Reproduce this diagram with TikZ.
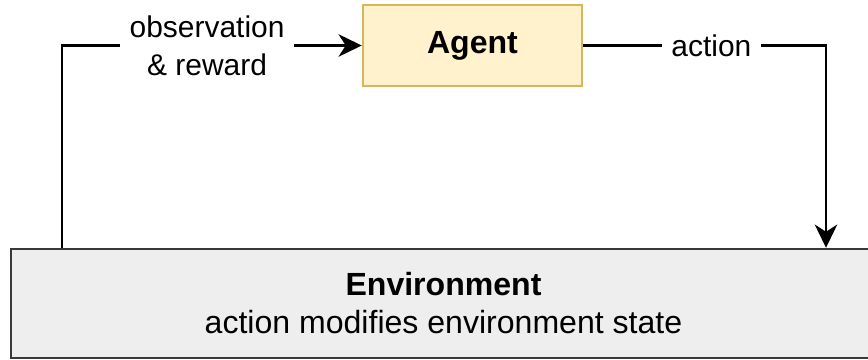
\documentclass[tikz,border=0pt]{standalone}
\usepackage{fontspec}
\setmainfont{Liberation Sans}
\usetikzlibrary{arrows.meta}
\usepackage{xcolor}
\definecolor{AgentFill}{HTML}{FFF2CC}
\definecolor{AgentLine}{HTML}{D6B656}
\definecolor{EnvFill}{HTML}{EEEEEE}
\definecolor{EnvLine}{HTML}{36393D}

\begin{document}
\begin{tikzpicture}[x=0.025cm, y=-0.025cm,
  >={Stealth[length=0.58cm, width=0.56cm, inset=0.18cm]},
  box/.style={draw, line width=0.06cm, align=center, inner sep=0pt,
    font=\fontsize{22.8}{27}\selectfont},
  flow/.style={line width=0.065cm},
  lbl/.style={fill=white, inner xsep=0.23cm, inner ysep=0pt, align=center,
    font=\fontsize{21.3}{27}\selectfont}]
\clip (0,0) rectangle (868,360);

\node[box, fill=AgentFill, draw=AgentLine, minimum width=5.475cm, minimum height=2.025cm]
  (agent) at (472.5,45.5) {\textbf{Agent}};
\node[box, fill=EnvFill, draw=EnvLine, minimum width=21.625cm, minimum height=2.725cm]
  (env) at (443.5,303.5) {\textbf{Environment}\\action modifies environment state};

\draw[flow, ->] (62,0 |- env.north) |- (agent.west)
  node[lbl, pos=0.742] (obs) {observation\\\& reward};
\draw[flow, ->] (agent.east) -| (826,0 |- env.north)
  node[lbl, pos=0.264] (act) {action};
\end{tikzpicture}
\end{document}
